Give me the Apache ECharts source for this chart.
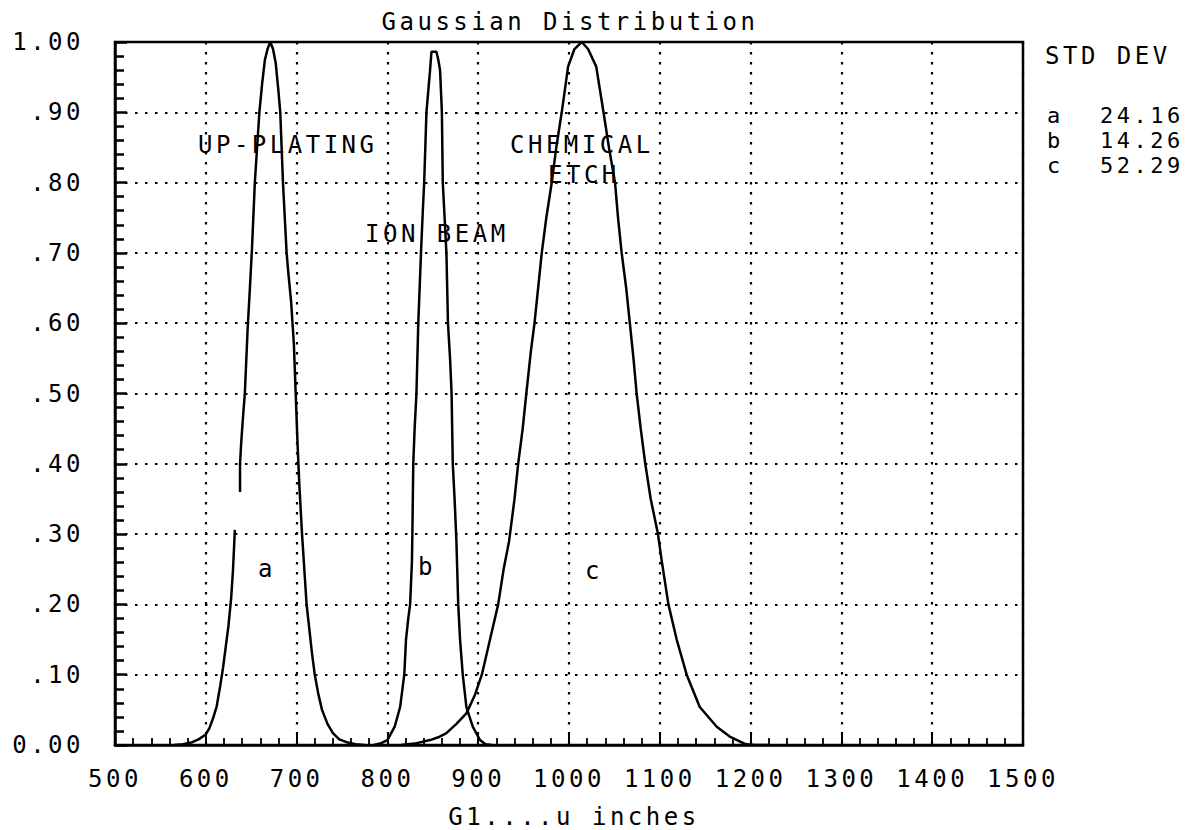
<!DOCTYPE html>
<html><head><meta charset="utf-8">
<script src="https://cdn.jsdelivr.net/npm/echarts@6/dist/echarts.min.js"></script>
<style>
html,body{margin:0;padding:0;background:#fff;}
#c{width:1195px;height:830px;}
#c text{letter-spacing:3.5px;}
</style></head><body><div id="c"></div>
<script>
// ---- data ----
const yTickLabels = ['0.00','.10','.20','.30','.40','.50','.60','.70','.80','.90','1.00'];
const stdDevNames = ['a','b','c'];
const stdDevValues = ['24.16','14.26','52.29'];

// curve a (UP-PLATING); null marks the break in the drawn line
const aX = [565,575,585,592,600,604,608,612,616,619,622,625,628,630,632,634.5,637.7,637.7,639,641,643,646,649,651,654,657,659,662,665,668,671,674,677,680,682,685,689,691,694,697,699,701,703,706,709,711,714,717,720,724,728,734,740,747,755,765,775];
const aY = [0,0.001,0.004,0.008,0.015,0.024,0.038,0.055,0.085,0.11,0.14,0.17,0.21,0.25,0.306,null,0.36,0.40,0.43,0.467,0.50,0.59,0.66,0.71,0.80,0.86,0.90,0.94,0.974,0.99,1.00,0.99,0.97,0.93,0.90,0.80,0.70,0.67,0.63,0.57,0.50,0.43,0.37,0.30,0.24,0.20,0.165,0.13,0.10,0.072,0.05,0.03,0.017,0.008,0.004,0.001,0];

// curve b (ION BEAM)
const bX = [785,792,800,808,814,818.6,820.5,823,825,827,827.5,828.5,830,832,834,837,839,840.5,842,843,845,847,848.5,854,856,858,859,860,861,863,865,866.7,869,870.7,872,874,876,878,880,883,887,894,902,908,915];
const bY = [0,0.002,0.007,0.026,0.054,0.10,0.15,0.18,0.20,0.26,0.30,0.40,0.45,0.50,0.60,0.70,0.76,0.80,0.86,0.90,0.93,0.96,0.986,0.986,0.975,0.96,0.93,0.90,0.80,0.75,0.70,0.60,0.55,0.50,0.40,0.35,0.29,0.20,0.15,0.10,0.054,0.026,0.007,0.001,0];

// curve c (CHEMICAL ETCH)
const cX = [815,830,847,856,865,876,887,896,904,913,922,928,934,940,944,949,953,958,962,966,970,975,981,986,992,999,1006,1014,1021,1030,1038,1044,1050.7,1054,1058,1063,1067,1071,1074.5,1079,1084,1090,1098,1102,1109.5,1118.6,1129.6,1144,1162.7,1177,1188,1195,1205,1220];
const cY = [0,0.002,0.007,0.011,0.017,0.03,0.045,0.07,0.10,0.15,0.20,0.25,0.29,0.35,0.40,0.45,0.50,0.56,0.60,0.65,0.70,0.75,0.80,0.85,0.90,0.965,0.99,1.00,0.99,0.965,0.90,0.85,0.80,0.75,0.70,0.65,0.60,0.55,0.50,0.45,0.40,0.35,0.30,0.263,0.20,0.15,0.10,0.054,0.026,0.012,0.005,0.001,0,0];

function pairs(xs, ys){ return xs.map((x,i)=>[x, ys[i]]); }

const FONT = '"DejaVu Sans Mono", monospace';
const FS = 24;
const chart = echarts.init(document.getElementById('c'), null, {renderer:'svg'});

function txt(t, x, y, align, fs){
  const size = fs || FS;
  return {type:'text', x:x, y:y, silent:true,
    style:{text:t, fill:'#000', font: size+'px '+FONT, lineHeight:size, textAlign:align||'left', textVerticalAlign:'middle'}};
}

const graphics = [
  txt('Gaussian Distribution', 570, 22, 'center'),
  txt('G1....u inches', 574, 817, 'center'),
  txt('STD DEV', 1045, 56),
  txt('UP-PLATING', 198, 145),
  txt('CHEMICAL', 510, 145),
  txt('ETCH', 548, 175),
  txt('ION BEAM', 365, 234),
  txt('a', 258, 569),
  txt('b', 418, 567),
  txt('c', 585, 571)
];
const sdY = [115, 140, 165];
stdDevNames.forEach((n,i)=>{
  graphics.push(txt(n, 1047, sdY[i], 'left', 22));
  graphics.push(txt(stdDevValues[i], 1100, sdY[i], 'left', 22));
});

const lineStyle = {color:'#000', width:2.5};
const option = {
  animation:false,
  backgroundColor:'#fff',
  grid:{left:115, right:172, top:42, bottom:85, show:true, borderColor:'#000', borderWidth:2.5, containLabel:false},
  xAxis:{type:'value', min:500, max:1500, interval:100,
    axisLine:{show:true, onZero:false, lineStyle:{color:'#000', width:2.5}},
    axisTick:{show:true, inside:true, length:13, lineStyle:{color:'#000', width:2}},
    minorTick:{show:true, splitNumber:5, length:7, lineStyle:{color:'#000', width:1.8}},
    splitLine:{show:true, lineStyle:{color:'#000', width:2.2, type:[2.5,7.5]}},
    axisLabel:{color:'#000', fontFamily:FONT, fontSize:FS, margin:22, formatter:(v)=>String(v)}
  },
  yAxis:{type:'value', min:0, max:1, interval:0.1,
    axisLine:{show:true, lineStyle:{color:'#000', width:2.5}},
    axisTick:{show:true, inside:true, length:12, lineStyle:{color:'#000', width:2.5}},
    minorTick:{show:true, splitNumber:5, length:9, lineStyle:{color:'#000', width:2.5}},
    splitLine:{show:true, lineStyle:{color:'#000', width:2.2, type:[2.5,7.5]}},
    axisLabel:{color:'#000', fontFamily:FONT, fontSize:FS, margin:31,
      formatter:(v)=>yTickLabels[Math.round(v*10)]}
  },
  series:[
    {name:'a', type:'line', data:pairs(aX,aY), showSymbol:false, lineStyle:lineStyle, connectNulls:false, z:3},
    {name:'b', type:'line', data:pairs(bX,bY), showSymbol:false, lineStyle:lineStyle, z:3},
    {name:'c', type:'line', data:pairs(cX,cY), showSymbol:false, lineStyle:lineStyle, z:3}
  ],
  graphic:graphics
};
chart.setOption(option);
</script></body></html>
